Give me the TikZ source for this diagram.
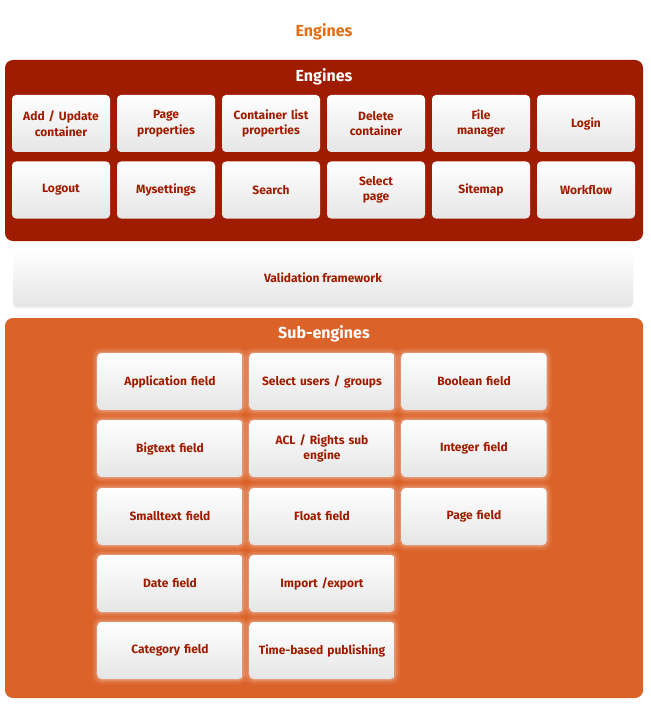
\documentclass[tikz,border=0pt]{standalone}
\usepackage{fontspec}
\setmainfont{Fira Sans}
\usepackage{tikz}
\usetikzlibrary{shadows}
\usetikzlibrary{positioning}
\definecolor{enginered}{RGB}{160,28,0}
\definecolor{suborange}{RGB}{219,98,41}
\definecolor{titleorange}{RGB}{226,110,18}
\tikzstyle{panel}=[rounded corners=8pt,draw=none]
\tikzstyle{header}=[font=\bfseries\fontsize{16}{18}\selectfont,text=white]
\tikzstyle{module}=[rounded corners=4pt,draw=none,top color=white,bottom color=black!10,
  text=enginered,font=\bfseries\fontsize{12}{15.5}\selectfont,align=center,inner sep=2pt]
\tikzstyle{enginebox}=[module,minimum width=96pt,minimum height=57pt,text width=94pt]
\tikzstyle{subbox}=[module,minimum width=143pt,minimum height=57pt,text width=141pt,
  preaction={draw=white,line width=11pt,opacity=0.06},
  preaction={draw=white,line width=7pt,opacity=0.1},
  preaction={draw=white,line width=3pt,opacity=0.18}]

\begin{document}
\begin{tikzpicture}[x=1pt,y=-1pt]
    \useasboundingbox[fill=white] (0,0) rectangle (650,722);

    \node[font=\bfseries\fontsize{16}{18}\selectfont,text=titleorange] (title) at (324,32) {Engines};

    % engines panel
    \path[panel,fill=enginered] (5,60) rectangle (643,241);
    \node[header] (engines) at (324,77) {Engines};

    \foreach \pos/\name/\label in {{(61,123.5)/addupdate/{Add / Update\\container}}, {(166,123.5)/pageprops/{Page\\properties}},
        {(271,123.5)/listprops/{Container list\\properties}}, {(376,123.5)/delete/{Delete\\container}},
        {(481,123.5)/filemanager/{File\\manager}}, {(586,123.5)/login/Login},
        {(61,190)/logout/Logout}, {(166,190)/mysettings/Mysettings}, {(271,190)/search/Search},
        {(376,190)/selectpage/{Select\\page}}, {(481,190)/sitemap/Sitemap}, {(586,190)/workflow/Workflow}}
        \node[enginebox] (\name) at \pos {\label};

    % validation layer
    \node[module,minimum width=620pt,minimum height=56pt,
      drop shadow={shadow xshift=0pt,shadow yshift=-2pt,opacity=0.12}] (validation) at (323,278) {Validation framework};

    % sub-engines panel
    \path[panel,fill=suborange] (5,318) rectangle (643,698);
    \node[header] (subengines) at (324,334) {Sub-engines};

    \foreach \pos/\name/\label in {{(170,381.5)/application/Application field}, {(322,381.5)/users/{Select users / groups}},
        {(474,381.5)/boolean/Boolean field}, {(170,448.5)/bigtext/Bigtext field},
        {(322,448.5)/acl/{ACL / Rights sub\\engine}}, {(474,448.5)/integer/Integer field},
        {(170,516.5)/smalltext/Smalltext field}, {(322,516.5)/float/Float field}, {(474,516.5)/page/Page field},
        {(170,583.5)/date/Date field}, {(322,583.5)/import/{Import /export}},
        {(170,650.5)/category/Category field}, {(322,650.5)/timebased/Time-based publishing}}
        \node[subbox] (\name) at \pos {\label};

\end{tikzpicture}
\end{document}
